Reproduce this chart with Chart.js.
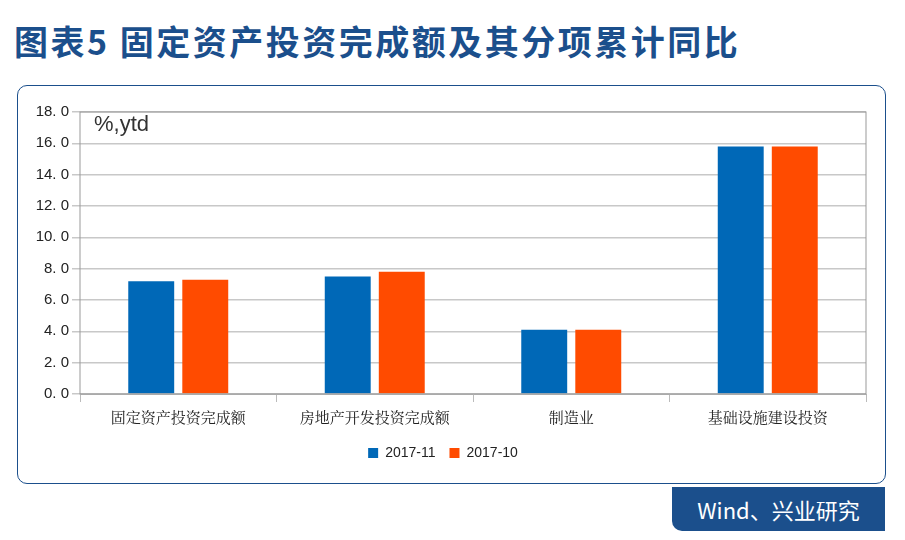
<!DOCTYPE html>
<html><head><meta charset="utf-8">
<script src="https://cdn.jsdelivr.net/npm/chart.js@4"></script>
<style>
body{margin:0;width:905px;height:540px;background:#fff;position:relative;overflow:hidden;font-family:"Noto Sans CJK SC",sans-serif}
#title{position:absolute;left:14px;top:16px;font-size:34px;font-weight:bold;color:#1b4f8c;letter-spacing:2.5px}
#box{position:absolute;left:17px;top:85px;width:867px;height:397px;border:1.5px solid #1b4f8c;border-radius:10px}
#src{position:absolute;left:672px;top:487px;width:213px;height:44px;background:#1b4f8c;color:#fff;font-size:22px;line-height:44px;text-align:center;border-radius:0 0 0 10px}
#wrap{position:absolute;left:20px;top:100px;width:860px;height:370px}
</style></head><body>
<div id="title">图表5 固定资产投资完成额及其分项累计同比</div>
<div id="box"></div>
<div id="src">Wind、兴业研究</div>
<div id="wrap"><canvas id="c"></canvas></div>
<script>
const categories=["固定资产投资完成额","房地产开发投资完成额","制造业","基础设施建设投资"];
const nov=[7.2,7.5,4.1,15.8];
const oct=[7.3,7.8,4.1,15.8];
const seriesNames=["2017-11","2017-10"];
new Chart(document.getElementById('c'),{
type:'bar',
data:{labels:categories,datasets:[
{label:seriesNames[0],data:nov,backgroundColor:'#0068b7',barPercentage:0.85,categoryPercentage:0.55},
{label:seriesNames[1],data:oct,backgroundColor:'#ff4b00',barPercentage:0.85,categoryPercentage:0.55}]},
options:{responsive:true,maintainAspectRatio:false,animation:false,
layout:{padding:{left:0,right:14,top:6,bottom:0}},
plugins:{legend:{position:'bottom',labels:{boxWidth:10,boxHeight:10,font:{size:14,family:'Liberation Sans'},color:'#222',padding:14}},tooltip:{enabled:false}},
scales:{
x:{grid:{display:true,drawOnChartArea:false,color:'#bbb',tickLength:8},border:{color:'#bbb'},ticks:{font:{size:15,family:'Noto Serif CJK SC, Noto Sans CJK SC'},color:'#222',padding:6}},
y:{min:0,max:18,afterFit:s=>{s.width=60},ticks:{stepSize:2,callback:v=>v.toFixed(1).replace('.','. '),font:{size:15,family:'Liberation Sans'},color:'#222'},grid:{color:'#c8c8c8',lineWidth:1.5},border:{display:false}}
}},
plugins:[{id:'ytd',afterDraw(ch){const a=ch.chartArea,x=ch.ctx;x.save();x.strokeStyle='#999';x.lineWidth=1;x.strokeRect(a.left,a.top,a.right-a.left,a.bottom-a.top);x.font='22px "Liberation Sans"';x.fillStyle='#333';x.textBaseline='top';x.fillText('%,ytd',a.left+14,a.top+2);x.restore();}}]
});
</script></body></html>
